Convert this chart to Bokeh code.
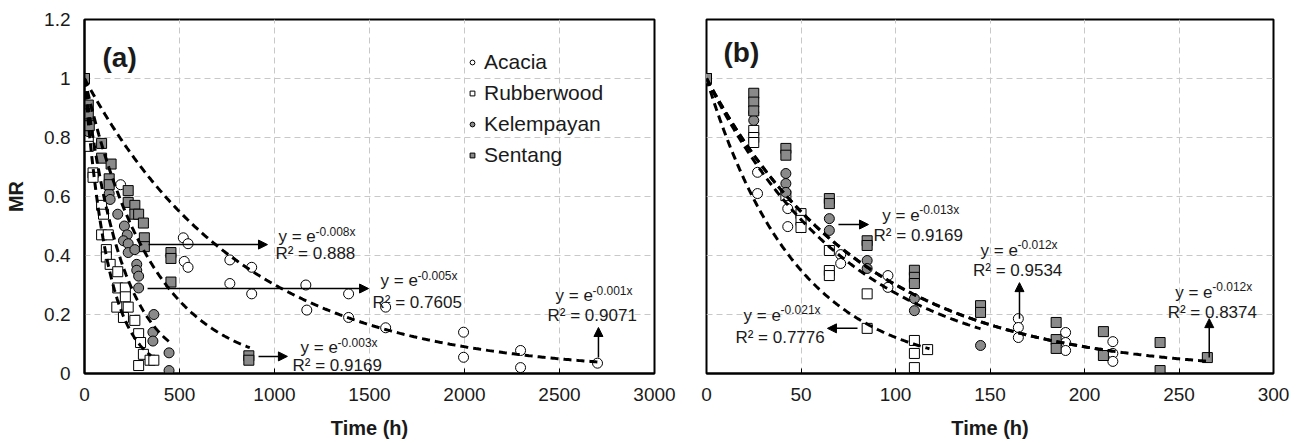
import numpy as np
from bokeh.plotting import figure
from bokeh.layouts import row
from bokeh.models import Legend, LegendItem, Label, Arrow, NormalHead, FixedTicker
from bokeh.embed import file_html
from bokeh.resources import INLINE

FONT = "Liberation Sans"

# ---------------- data: panel (a) ----------------
a_acacia_t = [0, 190, 520, 545, 525, 545, 765, 880, 765, 880, 1165, 1170, 1390, 1390, 1585, 1585, 1995, 1995, 2295, 2295, 2700]
a_acacia_mr = [1.0, 0.64, 0.46, 0.44, 0.38, 0.36, 0.385, 0.36, 0.305, 0.27, 0.30, 0.215, 0.27, 0.19, 0.225, 0.155, 0.14, 0.055, 0.078, 0.02, 0.035]

a_rubber_t = [0, 20, 20, 45, 45, 90, 100, 90, 125, 115, 115, 135, 175, 175, 215, 215, 170, 230, 205, 265, 285, 295, 310, 285, 345, 365]
a_rubber_mr = [1.0, 0.79, 0.77, 0.68, 0.665, 0.57, 0.54, 0.47, 0.47, 0.42, 0.395, 0.37, 0.345, 0.29, 0.29, 0.26, 0.225, 0.225, 0.19, 0.18, 0.135, 0.105, 0.065, 0.027, 0.045, 0.045]

a_kelem_t = [0, 20, 20, 130, 130, 135, 175, 210, 225, 205, 230, 230, 265, 275, 275, 285, 285, 365, 360, 360, 445, 445]
a_kelem_mr = [1.0, 0.86, 0.82, 0.64, 0.61, 0.59, 0.54, 0.50, 0.47, 0.45, 0.44, 0.41, 0.42, 0.37, 0.35, 0.33, 0.29, 0.20, 0.14, 0.11, 0.07, 0.01]

a_sentang_t = [0, 20, 20, 25, 90, 90, 140, 130, 130, 230, 230, 265, 265, 285, 310, 315, 315, 455, 455, 455, 865, 865]
a_sentang_mr = [1.0, 0.91, 0.88, 0.84, 0.78, 0.73, 0.71, 0.66, 0.64, 0.62, 0.58, 0.57, 0.54, 0.54, 0.51, 0.46, 0.43, 0.41, 0.39, 0.31, 0.06, 0.045]

# ---------------- data: panel (b) ----------------
b_acacia_t = [0, 27, 27, 43, 43, 71, 71, 96, 96, 165, 165, 165, 190, 190, 190, 215, 215, 215]
b_acacia_mr = [1.0, 0.682, 0.61, 0.559, 0.498, 0.403, 0.373, 0.332, 0.292, 0.186, 0.156, 0.122, 0.139, 0.105, 0.078, 0.108, 0.068, 0.041]

b_rubber_t = [0, 25, 25, 25, 42, 50, 50, 50, 65, 65, 65, 85, 85, 110, 110, 110, 117]
b_rubber_mr = [1.0, 0.824, 0.80, 0.783, 0.603, 0.542, 0.519, 0.495, 0.417, 0.349, 0.332, 0.27, 0.153, 0.112, 0.068, 0.02, 0.081]

b_kelem_t = [0, 25, 25, 42, 42, 42, 65, 65, 85, 85, 110, 110, 145]
b_kelem_mr = [1.0, 0.885, 0.858, 0.678, 0.644, 0.614, 0.525, 0.485, 0.383, 0.356, 0.254, 0.213, 0.095]

b_sentang_t = [0, 25, 25, 25, 42, 42, 65, 65, 85, 85, 110, 110, 110, 145, 145, 185, 185, 185, 210, 210, 240, 240, 265]
b_sentang_mr = [1.0, 0.95, 0.92, 0.89, 0.763, 0.74, 0.593, 0.576, 0.45, 0.434, 0.35, 0.326, 0.305, 0.23, 0.207, 0.173, 0.115, 0.085, 0.142, 0.061, 0.105, 0.01, 0.054]

species = ["Acacia", "Rubberwood", "Kelempayan", "Sentang"]

# fitted exponential model y = exp(-k t), per species, and the time range of each fit
a_fit_k = [0.0012, 0.008, 0.005, 0.0028]
a_fit_end = [2700, 350, 450, 870]
b_fit_k = [0.012, 0.021, 0.013, 0.012]
b_fit_end = [215, 118, 145, 265]

# equation annotations
a_eq_exp = ["-0.008x", "-0.005x", "-0.003x", "-0.001x"]
a_eq_r2 = ["R² = 0.888", "R² = 0.7605", "R² = 0.9169", "R² = 0.9071"]
b_eq_exp = ["-0.013x", "-0.021x", "-0.012x", "-0.012x"]
b_eq_r2 = ["R² = 0.9169", "R² = 0.7776", "R² = 0.9534", "R² = 0.8374"]

x_ticks_a = [0, 500, 1000, 1500, 2000, 2500, 3000]
x_ticks_b = [0, 50, 100, 150, 200, 250, 300]
y_ticks = [0.0, 0.2, 0.4, 0.6, 0.8, 1.0, 1.2]
y_labels = ["0", "0.2", "0.4", "0.6", "0.8", "1", "1.2"]

# ---------------- styling ----------------
markers = ["circle", "square", "circle", "square"]
fills = ["white", "white", "#8a8a8a", "#8a8a8a"]


def make_fig(xmax, xticks, border_left, border_right, show_y):
    p = figure(frame_width=(570 if show_y else 567), frame_height=354,
               x_range=(0, xmax), y_range=(0, 1.2),
               output_backend="svg", toolbar_location=None,
               min_border_left=border_left, min_border_right=border_right,
               min_border_top=19, min_border_bottom=66)
    p.background_fill_color = "white"
    p.border_fill_color = "white"
    p.outline_line_color = "black"
    p.outline_line_width = 2
    for g in (p.xgrid, p.ygrid):
        g.grid_line_color = "#c8c8c8"
        g.grid_line_dash = "6 4"
        g.grid_line_width = 1
    p.xgrid.ticker = FixedTicker(ticks=xticks)
    p.ygrid.ticker = FixedTicker(ticks=y_ticks)
    ax = p.xaxis[0]
    ax.ticker = FixedTicker(ticks=xticks)
    ax.axis_label = "Time (h)"
    ax.axis_label_text_font = FONT
    ax.axis_label_text_font_style = "bold"
    ax.axis_label_text_font_size = "20px"
    ax.axis_label_text_color = "#1a1a1a"
    ax.major_label_text_font = FONT
    ax.major_label_text_font_size = "19px"
    ax.major_label_text_color = "#1a1a1a"
    ax.major_label_standoff = 14
    ax.axis_label_standoff = 13
    ax.major_tick_in = 5
    ax.major_tick_out = 0
    ax.minor_tick_line_color = None
    ax.axis_line_color = "black"
    ax.axis_line_width = 2
    ay = p.yaxis[0]
    if show_y:
        ay.ticker = FixedTicker(ticks=y_ticks)
        ay.major_label_overrides = {t: l for t, l in zip(y_ticks, y_labels)}
        ay.axis_label = "MR"
        ay.axis_label_text_font = FONT
        ay.axis_label_text_font_style = "bold"
        ay.axis_label_text_font_size = "20px"
        ay.axis_label_text_color = "#1a1a1a"
        ay.major_label_text_font = FONT
        ay.major_label_text_font_size = "19px"
        ay.major_label_text_color = "#1a1a1a"
        ay.major_label_standoff = 14
        ay.axis_label_standoff = 14
        ay.major_tick_in = 0
        ay.major_tick_out = 0
        ay.minor_tick_line_color = None
        ay.axis_line_color = "black"
        ay.axis_line_width = 2
    else:
        ay.visible = False
    return p


def draw(p, ts, mrs, ks, ends, eq_exp, eq_r2, eq_pos, r2_pos, arrows, tag, tag_pos):
    renderers = []
    for t, mr, mk, fc in zip(ts, mrs, markers, fills):
        r = p.scatter(t, mr, marker=mk, size=10, fill_color=fc,
                      line_color="black", line_width=1)
        renderers.append(r)
    for k, end in zip(ks, ends):
        xs = np.linspace(0, end, 300)
        p.line(xs, np.exp(-k * xs), line_color="black", line_width=3,
               line_dash="8 5")
    for ex, r2, (ex_x, ex_y), (r_x, r_y) in zip(eq_exp, eq_r2, eq_pos, r2_pos):
        p.add_layout(Label(x=ex_x, y=ex_y, text="y = e", text_font=FONT,
                           text_font_size="17px", text_baseline="middle",
                           text_color="#1a1a1a"))
        p.add_layout(Label(x=ex_x, y=ex_y, x_offset=37, y_offset=5, text=ex,
                           text_font=FONT, text_font_size="12px",
                           text_baseline="middle", text_color="#1a1a1a"))
        p.add_layout(Label(x=r_x, y=r_y, text=r2, text_font=FONT,
                           text_font_size="17px", text_baseline="middle",
                           text_color="#1a1a1a"))
    for (x0, y0, x1, y1) in arrows:
        p.add_layout(Arrow(x_start=x0, y_start=y0, x_end=x1, y_end=y1,
                           line_color="black", line_width=1.5,
                           end=NormalHead(size=9, fill_color="black",
                                          line_color="black")))
    p.add_layout(Label(x=tag_pos[0], y=tag_pos[1], text=tag, text_font=FONT,
                       text_font_size="28px", text_font_style="bold",
                       text_baseline="middle", text_color="#1a1a1a"))
    return renderers


p1 = make_fig(3000, x_ticks_a, 84, 26, True)
r1 = draw(p1,
          [a_acacia_t, a_rubber_t, a_kelem_t, a_sentang_t],
          [a_acacia_mr, a_rubber_mr, a_kelem_mr, a_sentang_mr],
          a_fit_k, a_fit_end, a_eq_exp, a_eq_r2,
          [(1021, 0.464), (1558, 0.315), (1137, 0.088), (2479, 0.264)],
          [(1005, 0.407), (1516, 0.241), (1095, 0.027), (2437, 0.197)],
          [(337, 0.437, 963, 0.437), (332, 0.288, 1495, 0.288),
           (916, 0.058, 1068, 0.058), (2705, 0.054, 2705, 0.156)],
          "(a)", (95, 1.071))

legend = Legend(items=[LegendItem(label=s, renderers=[r]) for s, r in zip(species, r1)],
                location=(382, 205), padding=5, margin=0, spacing=5,
                glyph_width=12, glyph_height=26, label_height=26,
                label_standoff=6, label_text_font=FONT,
                label_text_font_size="21px", label_text_color="#1a1a1a",
                background_fill_alpha=0, border_line_color=None)
p1.add_layout(legend)

p2 = make_fig(300, x_ticks_b, 26, 30, False)
draw(p2,
     [b_acacia_t, b_rubber_t, b_kelem_t, b_sentang_t],
     [b_acacia_mr, b_rubber_mr, b_kelem_mr, b_sentang_mr],
     b_fit_k, b_fit_end, b_eq_exp, b_eq_r2,
     [(93, 0.536), (19.6, 0.197), (145, 0.417), (248, 0.275)],
     [(88.4, 0.468), (15.3, 0.122), (141, 0.349), (244, 0.207)],
     [(69.8, 0.505, 85.7, 0.505), (79.9, 0.153, 64, 0.153),
      (165.6, 0.186, 165.6, 0.308), (266, 0.054, 266, 0.186)],
     "(b)", (9, 1.088))

layout = row(p1, p2)
open("out.html", "w").write(file_html(layout, INLINE))
